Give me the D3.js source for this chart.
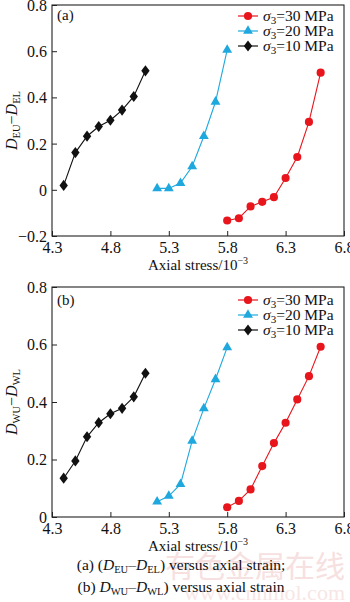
<!DOCTYPE html>
<html><head><meta charset="utf-8">
<script src="https://cdn.jsdelivr.net/npm/d3@7"></script>
<style>
body{margin:0;background:#fff;}
svg{display:block;font-family:"Liberation Serif","Times New Roman",serif;}
</style></head>
<body><svg id="c" width="350" height="602"></svg>
<script>
const xTicks = [4.3, 4.8, 5.3, 5.8, 6.3, 6.8];
const yTicksA = [-0.2, 0, 0.2, 0.4, 0.6, 0.8];
const yTicksB = [0, 0.2, 0.4, 0.6, 0.8];
const seriesNames = ["30 MPa", "20 MPa", "10 MPa"];

// Panel (a): D_EU - D_EL
const a30x = [5.8, 5.9, 6.0, 6.1, 6.2, 6.3, 6.4, 6.5, 6.6];
const a30y = [-0.133, -0.123, -0.072, -0.052, -0.032, 0.051, 0.142, 0.294, 0.507];
const a20x = [5.2, 5.3, 5.4, 5.5, 5.6, 5.7, 5.8];
const a20y = [0.006, 0.006, 0.029, 0.101, 0.232, 0.381, 0.606];
const a10x = [4.4, 4.5, 4.6, 4.7, 4.8, 4.9, 5.0, 5.1];
const a10y = [0.019, 0.161, 0.232, 0.274, 0.301, 0.345, 0.404, 0.515];

// Panel (b): D_WU - D_WL
const b30x = [5.8, 5.9, 6.0, 6.1, 6.2, 6.3, 6.4, 6.5, 6.6];
const b30y = [0.034, 0.056, 0.096, 0.177, 0.257, 0.328, 0.409, 0.49, 0.592];
const b20x = [5.2, 5.3, 5.4, 5.5, 5.6, 5.7, 5.8];
const b20y = [0.053, 0.073, 0.114, 0.265, 0.378, 0.479, 0.59];
const b10x = [4.4, 4.5, 4.6, 4.7, 4.8, 4.9, 5.0, 5.1];
const b10y = [0.135, 0.195, 0.279, 0.328, 0.359, 0.378, 0.418, 0.5];

const colors = {"30 MPa":"#e8151c","20 MPa":"#1fa8de","10 MPa":"#111111"};
const symbols = {"30 MPa":d3.symbolCircle,"20 MPa":d3.symbolTriangle,"10 MPa":d3.symbolDiamond};
const symSize = {"30 MPa":52,"20 MPa":42,"10 MPa":36};
const symScale = {"30 MPa":"","20 MPa":"","10 MPa":" scale(1.3,1)"};

const svg = d3.select("#c");
svg.append("rect").attr("width",350).attr("height",602).attr("fill","#fff");

// watermark
svg.append("text").attr("x",345).attr("y",577).attr("text-anchor","end")
  .attr("font-family","'Noto Sans CJK SC'").attr("font-size",30).attr("fill","#f7e0e0").text("有色金属在线");
svg.append("text").attr("x",345).attr("y",600).attr("text-anchor","end")
  .attr("font-size",22).attr("fill","#f8e6e6").text("www.cnnmol.com");

function panel(cfg){
  const x = d3.scaleLinear().domain([4.3,6.8]).range([52,344]);
  const y = d3.scaleLinear().domain(cfg.ydom).range([cfg.bottom, cfg.top]);
  const g = svg.append("g");
  g.append("rect").attr("x",52).attr("y",cfg.top).attr("width",292).attr("height",cfg.bottom-cfg.top)
    .attr("fill","none").attr("stroke","#222").attr("stroke-width",1.1);
  const xa = g.append("g").attr("transform",`translate(0,${cfg.bottom})`)
    .call(d3.axisBottom(x).tickValues(xTicks).tickSizeInner(-5).tickSizeOuter(0).tickPadding(0).tickFormat(d3.format(".1f")));
  xa.select(".domain").remove();
  xa.selectAll("line").attr("stroke","#222");
  xa.selectAll("text").attr("y",17).attr("dy",null).attr("font-size",16).attr("font-family","'Liberation Serif'").attr("fill","#111");
  const ya = g.append("g").attr("transform","translate(52,0)")
    .call(d3.axisLeft(y).tickValues(cfg.yticks).tickSizeInner(-5).tickSizeOuter(0).tickPadding(0)
      .tickFormat(d => d===0 ? "0" : d3.format(".1f")(d).replace("-","\u2212")));
  ya.select(".domain").remove();
  ya.selectAll("line").attr("stroke","#222");
  ya.selectAll("text").attr("x",-5).attr("dy","0.34em").attr("font-size",16).attr("font-family","'Liberation Serif'").attr("fill","#111");

  const line = d3.line().x(d=>x(d[0])).y(d=>y(d[1]));
  cfg.series.forEach(s=>{
    const pts = s.xs.map((v,i)=>[v, s.ys[i]]);
    g.append("path").datum(pts).attr("d",line).attr("fill","none").attr("stroke",colors[s.name]).attr("stroke-width",1.1);
    g.selectAll(null).data(pts).enter().append("path")
      .attr("transform",d=>`translate(${x(d[0])},${y(d[1])})${symScale[s.name]}`)
      .attr("d",d3.symbol().type(symbols[s.name]).size(symSize[s.name])).attr("fill",colors[s.name]);
  });

  g.append("text").attr("x",57).attr("y",cfg.top+cfg.letterOff).attr("font-size",15).attr("fill","#111").text(cfg.letter);

  seriesNames.forEach((n,i)=>{
    const ly = cfg.top + cfg.legOff + i*15;
    g.append("line").attr("x1",238).attr("x2",258).attr("y1",ly).attr("y2",ly).attr("stroke",colors[n]).attr("stroke-width",1.2);
    g.append("path").attr("transform",`translate(248,${ly})${symScale[n]}`).attr("d",d3.symbol().type(symbols[n]).size(symSize[n])).attr("fill",colors[n]);
    const t = g.append("text").attr("x",263).attr("y",ly+5).attr("font-size",15.5).attr("fill","#111");
    t.append("tspan").attr("font-style","italic").text("σ");
    t.append("tspan").attr("font-size",11).attr("dy",3).text("3");
    t.append("tspan").attr("dy",-3).text("=" + n);
  });

  const at = g.append("text").attr("x",198).attr("y",cfg.bottom+34).attr("text-anchor","middle").attr("font-size",15).attr("fill","#111");
  at.append("tspan").text("Axial stress/10");
  at.append("tspan").attr("font-size",10).attr("dy",-6).text("\u22123");

  const cy = (cfg.top+cfg.bottom)/2;
  const yt = g.append("text").attr("transform",`translate(17,${cy}) rotate(-90)`).attr("text-anchor","middle").attr("font-size",16).attr("fill","#111");
  yt.append("tspan").attr("font-style","italic").text("D");
  yt.append("tspan").attr("font-size",10.5).attr("dy",3).text(cfg.sub1);
  yt.append("tspan").attr("dy",-3).text("\u2212");
  yt.append("tspan").attr("font-style","italic").text("D");
  yt.append("tspan").attr("font-size",10.5).attr("dy",3).text(cfg.sub2);
}

panel({ydom:[-0.2,0.8], top:5, bottom:236, yticks:yTicksA, letter:"(a)", letterOff:15, legOff:11, sub1:"EU", sub2:"EL",
  series:[{name:"30 MPa",xs:a30x,ys:a30y},{name:"20 MPa",xs:a20x,ys:a20y},{name:"10 MPa",xs:a10x,ys:a10y}]});
panel({ydom:[0,0.8], top:287, bottom:517, yticks:yTicksB, letter:"(b)", letterOff:18, legOff:13, sub1:"WU", sub2:"WL",
  series:[{name:"30 MPa",xs:b30x,ys:b30y},{name:"20 MPa",xs:b20x,ys:b20y},{name:"10 MPa",xs:b10x,ys:b10y}]});

function caption(y, parts){
  const t = svg.append("text").attr("x",181).attr("y",y).attr("text-anchor","middle").attr("font-size",15.5).attr("fill","#111");
  parts.forEach(p=>{
    const s = t.append("tspan").text(p.t);
    if(p.i) s.attr("font-style","italic");
    if(p.sub) s.attr("font-size",10.5).attr("dy",3);
    if(p.up) s.attr("dy",-3);
  });
}
caption(570,[{t:"(a) ("},{t:"D",i:1},{t:"EU",sub:1},{t:"\u2013",up:1},{t:"D",i:1},{t:"EL",sub:1},{t:") versus axial strain;",up:1}]);
caption(592,[{t:"(b) "},{t:"D",i:1},{t:"WU",sub:1},{t:"\u2013",up:1},{t:"D",i:1},{t:"WL",sub:1},{t:") versus axial strain",up:1}]);
</script></body></html>
